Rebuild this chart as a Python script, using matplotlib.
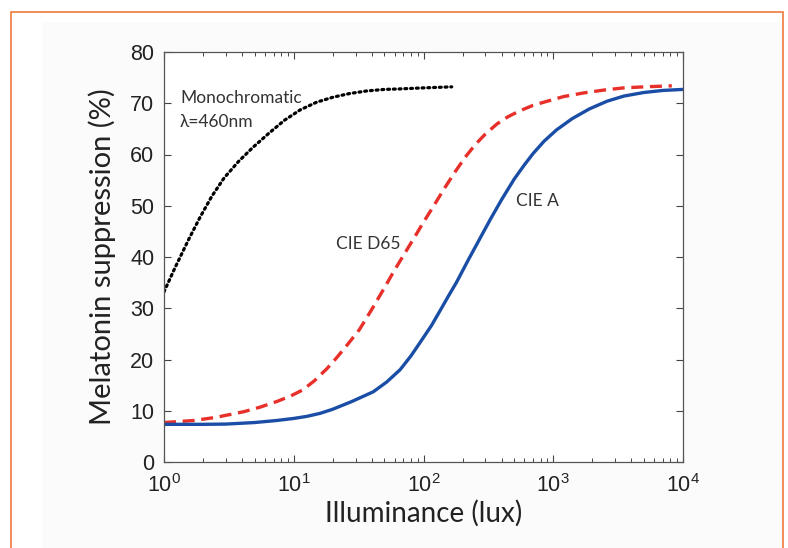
import matplotlib.pyplot as plt
from matplotlib.patches import Rectangle
from matplotlib.ticker import LogLocator, NullFormatter

# values
lux_mono = [1, 1.2, 1.54, 1.9, 2.33, 2.9, 3.74, 4.8, 6.4, 8.5, 11.2, 15, 20.2, 27, 36.5, 50, 66, 100, 165]
mono = [33.2, 37.6, 43.3, 47.8, 51.8, 55.4, 58.6, 61.3, 64.1, 66.7, 68.7, 70.2, 71.2, 71.9, 72.4, 72.7, 72.8, 73.0, 73.2]

lux_d65 = [1, 1.7, 2.5, 4.1, 5.5, 7.4, 9.5, 11.8, 14.5, 18, 21, 25, 32, 40, 50, 60, 72, 85, 100,
           120, 145, 175, 210, 250, 300, 370, 450, 550, 700, 900, 1200, 1700, 2500, 3500, 5000, 8200]
d65 = [7.7, 8.1, 8.7, 9.8, 10.7, 11.8, 12.9, 14.1, 15.9, 18.2, 20.1, 22.4, 25.8, 29.8, 34.0, 37.5, 40.8,
       43.8, 46.8, 50.0, 53.4, 56.6, 59.5, 61.9, 64.0, 66.0, 67.4, 68.5, 69.6, 70.4, 71.3, 72.0, 72.6,
       73.0, 73.2, 73.4]

lux_a = [1, 2, 3, 5, 7.4, 10, 12.6, 16, 20, 28, 41, 52, 66, 80, 94, 115, 134, 155, 180, 220, 272, 330,
         400, 500, 600, 700, 850, 1060, 1400, 1900, 2600, 3500, 5000, 7000, 10000]
cie_a = [7.35, 7.35, 7.4, 7.7, 8.1, 8.5, 8.9, 9.5, 10.3, 11.8, 13.7, 15.6, 18.0, 20.7, 23.3, 26.6, 29.5,
         32.3, 35.1, 39.3, 43.6, 47.5, 51.2, 55.2, 58.0, 60.2, 62.6, 64.8, 67.0, 68.9, 70.4, 71.4, 72.1,
         72.5, 72.7]

plt.rcParams['font.family'] = ['Liberation Sans', 'DejaVu Sans']
plt.rcParams['mathtext.fontset'] = 'custom'
plt.rcParams['mathtext.rm'] = 'Liberation Sans'

fig = plt.figure(figsize=(7.88, 5.48), dpi=100)
fig.patches.append(Rectangle((42 / 788, -0.05), 740 / 788, 1.01, transform=fig.transFigure,
                             facecolor='#fbfbfb', edgecolor='none', zorder=-2))
fig.patches.append(Rectangle((11 / 788, -0.05), 772 / 788, 1.028, transform=fig.transFigure,
                             facecolor='none', edgecolor='#ee7a3c', linewidth=1.2, zorder=-1))

ax = fig.add_axes([164 / 788, 86 / 548, 519 / 788, 410 / 548])
ax.set_zorder(3)
ax.set_facecolor('white')

ax.plot(lux_mono, mono, color='black', linewidth=2.3, linestyle=(0, (0.6, 1.2)),
        dash_capstyle='round')
ax.plot(lux_d65, d65, color='#e8302a', linewidth=2.4, linestyle=(0, (3.6, 2.0)))
ax.plot(lux_a, cie_a, color='#1a4ea6', linewidth=2.4)

ax.set_xscale('log')
ax.set_xlim(1, 1e4)
ax.set_ylim(0, 80)
ax.set_yticks(range(0, 81, 10))
ax.xaxis.set_major_locator(LogLocator(base=10, numticks=10))
ax.xaxis.set_minor_locator(LogLocator(base=10, subs=range(2, 10), numticks=50))
ax.xaxis.set_minor_formatter(NullFormatter())

ax.tick_params(which='both', direction='in', top=True, right=True, colors='#444444',
               labelcolor='#222222', labelsize=15.5)
ax.tick_params(which='major', length=5, width=0.8)
ax.tick_params(which='minor', length=3, width=0.7)
ax.tick_params(axis='x', which='major', pad=9)
ax.tick_params(axis='y', pad=7)
for s in ax.spines.values():
    s.set_color('#555555')
    s.set_linewidth(0.9)

lab_font = ['Lato', 'DejaVu Sans']
ax.set_xlabel('Illuminance (lux)', fontsize=20, family=lab_font, color='#222222', labelpad=2)
ax.set_ylabel('Melatonin suppression (%)', fontsize=21, family=lab_font, color='#222222', labelpad=10)

ann = dict(fontsize=12.5, family=lab_font, color='#333333', va='center')
ax.text(1.33, 71.0, 'Monochromatic', **ann)
ax.text(1.33, 66.3, 'λ=460nm', **ann)
ax.text(21.2, 42.5, 'CIE D65', **ann)
ax.text(518, 50.9, 'CIE A', **ann)

fig.savefig('out.png', dpi=100)
